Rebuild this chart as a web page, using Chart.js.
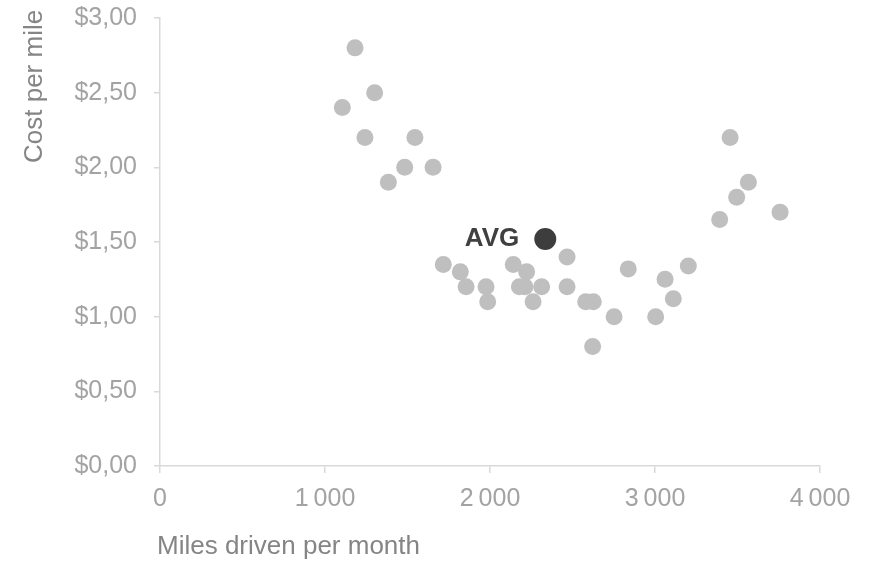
<!DOCTYPE html>
<html>
<head>
<meta charset="utf-8">
<title>Cost per mile vs. miles driven</title>
<script src="https://cdn.jsdelivr.net/npm/chart.js@4.4.1/dist/chart.umd.min.js"></script>
<style>
  html, body { margin: 0; padding: 0; background: #ffffff; }
  #wrap { width: 876px; height: 562px; position: relative; }
</style>
</head>
<body>
<div id="wrap"><canvas id="chart" width="876" height="562"></canvas></div>
<script>
// Monthly mileage and the matching cost per mile, one entry per driver
const milesDriven = [1105, 1182, 1301, 1242, 1384, 1483, 1545, 1655, 1717, 1820,
                     1855, 1976, 1986, 2141, 2178, 2212, 2222, 2261, 2313, 2467,
                     2467, 2580, 2626, 2622, 2752, 2838, 3004, 3061, 3111, 3202,
                     3392, 3455, 3495, 3566, 3758];
const costPerMile = [2.40, 2.80, 2.50, 2.20, 1.90, 2.00, 2.20, 2.00, 1.35, 1.30,
                     1.20, 1.20, 1.10, 1.35, 1.20, 1.20, 1.30, 1.10, 1.20, 1.40,
                     1.20, 1.10, 1.10, 0.80, 1.00, 1.32, 1.00, 1.25, 1.12, 1.34,
                     1.65, 2.20, 1.80, 1.90, 1.70];

// The average driver
const avgMiles = [2335];
const avgCost = [1.52];
const avgLabel = 'AVG';

// Axis ticks and titles
const xTickValues = [0, 1000, 2000, 3000, 4000];
const yTickValues = [0, 0.5, 1, 1.5, 2, 2.5, 3];
const xTitle = 'Miles driven per month';
const yTitle = 'Cost per mile';

const FONT = "'Liberation Sans', Arial, Helvetica, sans-serif";
const AXIS_GREY = '#d9d9d9';
const TICK_GREY = '#a3a3a3';
const TITLE_GREY = '#858585';

const toPoints = (xs, ys) => xs.map((x, i) => ({ x: x, y: ys[i] }));

const fmtMiles = v => {
  const s = String(Math.round(v));
  return s.length > 3 ? s.slice(0, -3) + '\u2009' + s.slice(-3) : s;
};
const fmtCost = v => '$' + v.toFixed(2).replace('.', ',');

// Axis titles and the label beside the average point
const annotations = {
  id: 'annotations',
  afterDraw(chart) {
    const ctx = chart.ctx;
    const area = chart.chartArea;
    ctx.save();
    ctx.fillStyle = TITLE_GREY;
    ctx.font = '26px ' + FONT;
    ctx.textBaseline = 'middle';
    ctx.textAlign = 'left';
    ctx.fillText(xTitle, area.left - 3, chart.height - 15);

    ctx.translate(35, area.top + 145);
    ctx.rotate(-Math.PI / 2);
    ctx.fillText(yTitle, 0, 0);
    ctx.restore();

    const avgPoint = chart.getDatasetMeta(1).data[0];
    if (avgPoint) {
      ctx.save();
      ctx.fillStyle = '#404040';
      ctx.font = 'bold 26px ' + FONT;
      ctx.textAlign = 'right';
      ctx.textBaseline = 'middle';
      ctx.fillText(avgLabel, avgPoint.x - 26, avgPoint.y);
      ctx.restore();
    }
  }
};

new Chart(document.getElementById('chart'), {
  type: 'scatter',
  data: {
    datasets: [
      {
        label: 'Drivers',
        data: toPoints(milesDriven, costPerMile),
        backgroundColor: '#bfbfbf',
        borderWidth: 0,
        pointRadius: 8.5,
        pointHoverRadius: 8.5
      },
      {
        label: 'Average',
        data: toPoints(avgMiles, avgCost),
        backgroundColor: '#3d3d3d',
        borderWidth: 0,
        pointRadius: 11,
        pointHoverRadius: 11
      }
    ]
  },
  options: {
    responsive: false,
    animation: false,
    events: [],
    layout: { padding: { top: 18, right: 56, left: 0, bottom: 0 } },
    plugins: {
      legend: { display: false },
      tooltip: { enabled: false }
    },
    scales: {
      x: {
        type: 'linear',
        min: 0,
        max: 4000,
        afterBuildTicks: s => { s.ticks = xTickValues.map(v => ({ value: v })); },
        afterFit: s => { s.height = 96; },
        border: { display: true, color: AXIS_GREY, width: 1.5 },
        grid: { display: true, drawOnChartArea: false, drawTicks: true, tickLength: 7, color: AXIS_GREY, lineWidth: 1.5 },
        ticks: {
          color: TICK_GREY,
          font: { family: FONT, size: 25 },
          padding: 11,
          maxRotation: 0,
          callback: v => fmtMiles(v)
        }
      },
      y: {
        type: 'linear',
        min: 0,
        max: 3,
        afterBuildTicks: s => { s.ticks = yTickValues.map(v => ({ value: v })); },
        afterFit: s => { s.width = 160; s.paddingTop = 0; s.paddingBottom = 0; },
        border: { display: true, color: AXIS_GREY, width: 1.5 },
        grid: { display: true, drawOnChartArea: false, drawTicks: true, tickLength: 6, color: AXIS_GREY, lineWidth: 1.5 },
        ticks: {
          color: TICK_GREY,
          font: { family: FONT, size: 25 },
          padding: 17,
          callback: v => fmtCost(v)
        }
      }
    }
  },
  plugins: [annotations]
});
</script>
</body>
</html>
